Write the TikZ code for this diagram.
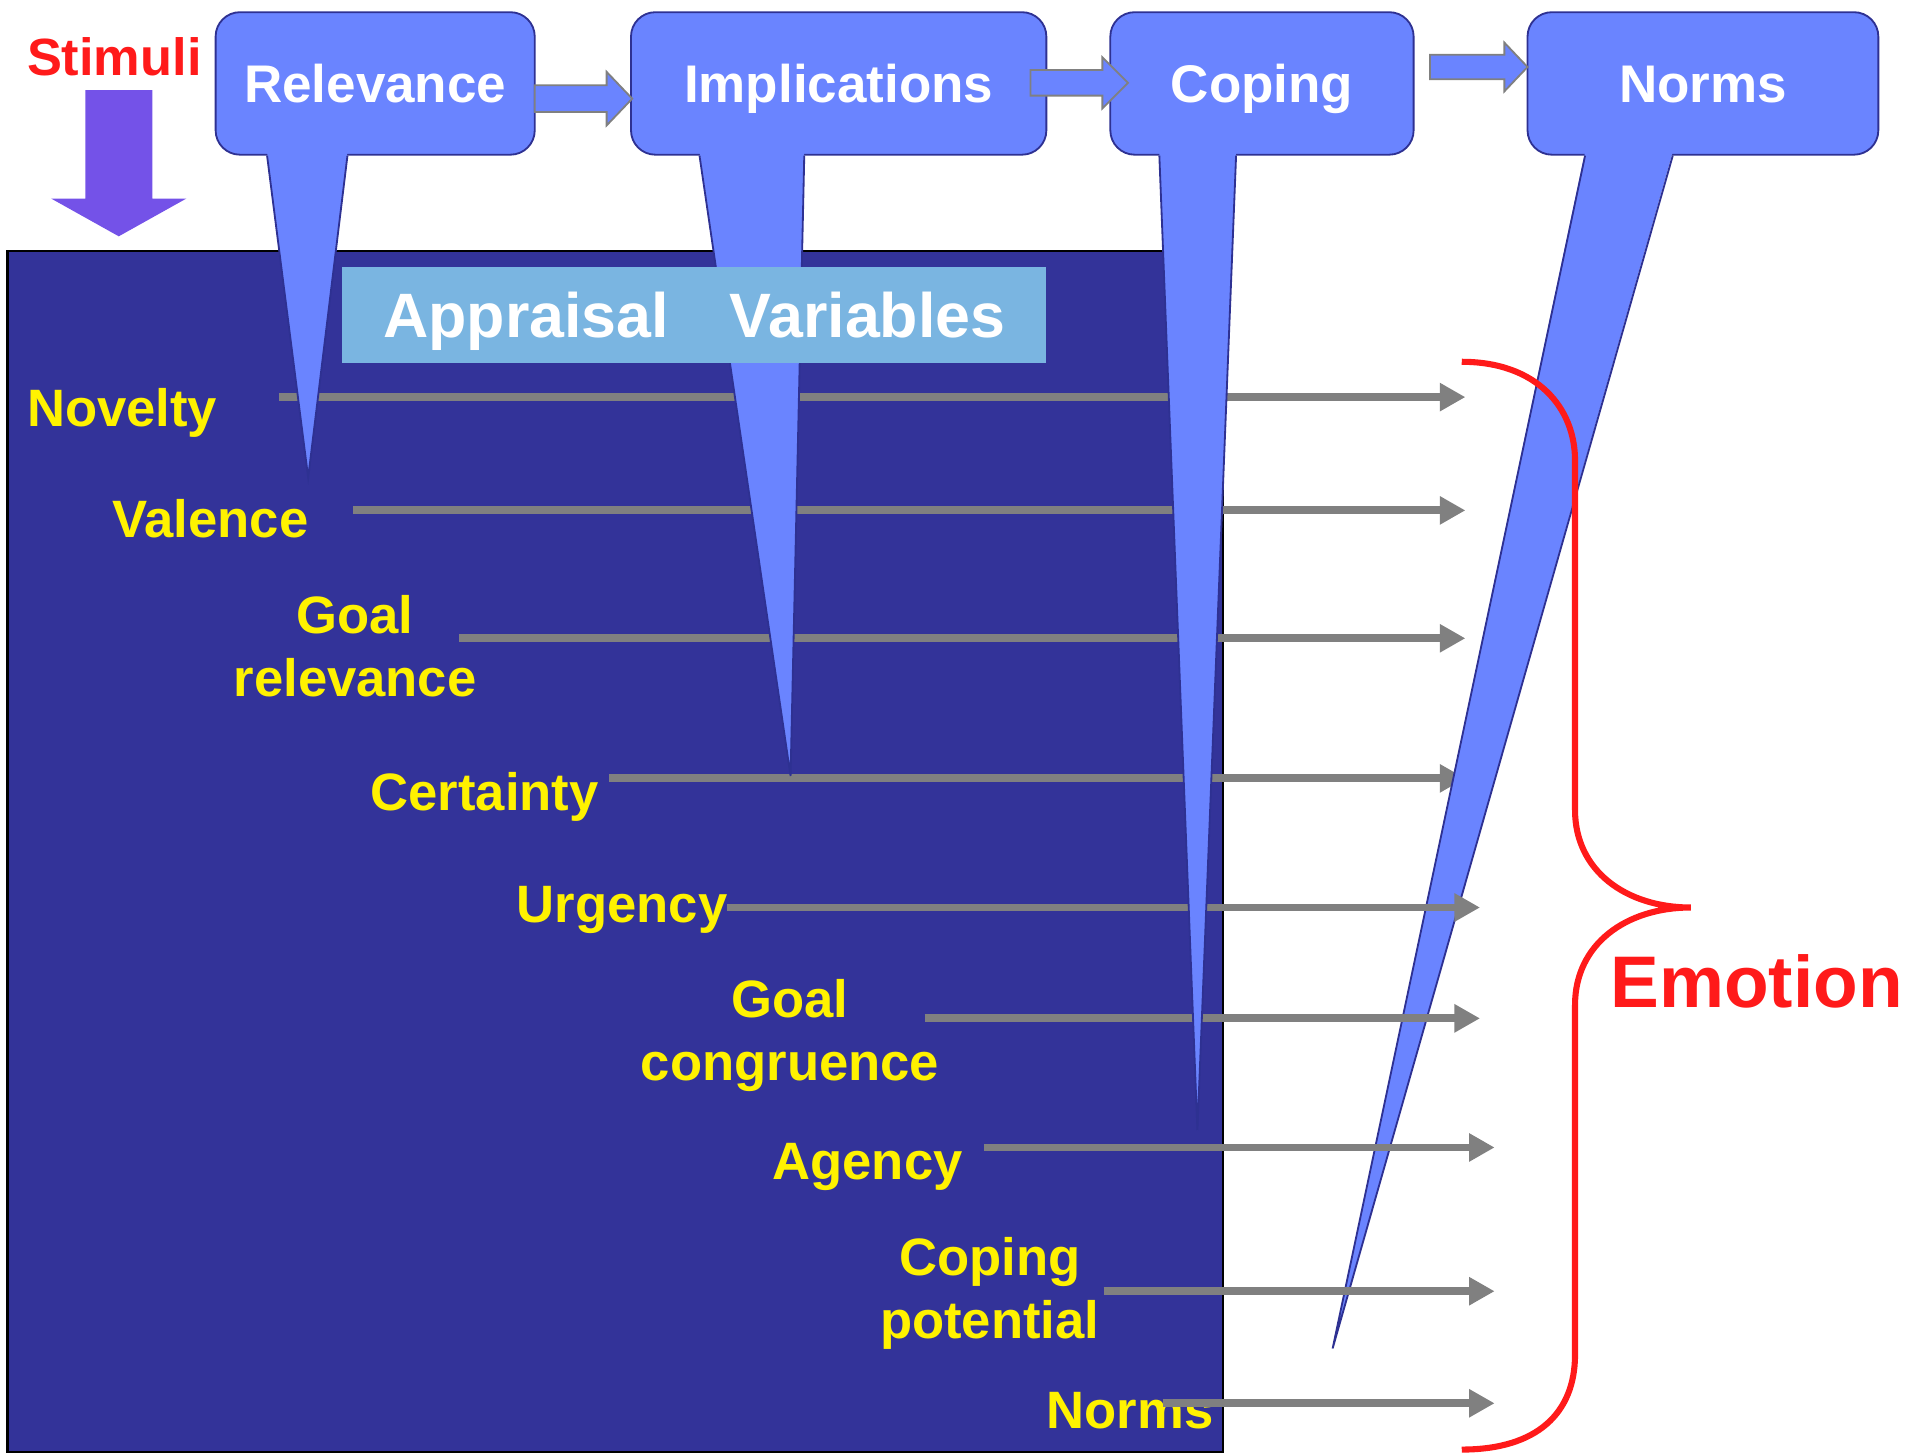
\documentclass[tikz,border=0pt]{standalone}
\usepackage{fontspec}
\setmainfont{Liberation Sans}
\usetikzlibrary{positioning,arrows.meta}

\definecolor{boxblue}{HTML}{6A84FF}
\definecolor{navy}{HTML}{333399}
\definecolor{edgeblue}{HTML}{2E3192}
\definecolor{skyblue}{HTML}{7AB5E1}
\definecolor{labyellow}{HTML}{FFF200}
\definecolor{stimred}{HTML}{FF1A1A}
\definecolor{stimpurple}{HTML}{7452E8}
\definecolor{lgray}{HTML}{808080}

\tikzset{
  topbox/.style={draw=edgeblue, fill=boxblue, line width=1.5pt, rounded corners=20pt,
    minimum height=117pt, inner sep=0pt, text=white,
    font=\fontsize{43.5}{52}\selectfont\bfseries, text height=31pt, text depth=0pt},
  tailedge/.style={draw=edgeblue, line width=1.5pt, line join=miter},
  varlab/.style={text=labyellow, font=\fontsize{43.2}{52}\selectfont\bfseries,
    align=center, inner sep=0pt},
  gline/.style={draw=lgray, line width=6.5pt, -{Triangle[length=21pt,width=22pt]}},
  blockarrow/.style={fill=boxblue, draw=lgray, line width=1.5pt},
}

\begin{document}
\begin{tikzpicture}[x=1pt,y=-1pt]
\useasboundingbox (0,0) rectangle (1568,1194);

% stimuli
\node[text=stimred, font=\fontsize{43}{52}\selectfont\bfseries, inner sep=0pt, anchor=base west] (stim) at (22,62) {Stimuli};
\fill[stimpurple] (70,74) -- (125,74) -- (125,163) -- (153,163) -- (97.5,194) -- (42,163) -- (70,163) -- cycle;

% panel
\draw[fill=navy, draw=black, line width=2pt] (6,206) rectangle (1004,1192);

% variables
\node[varlab, anchor=base west] (nov) at (22,350) {Novelty};
\node[varlab, anchor=base west] (val) at (92,441) {Valence};
\node[varlab, anchor=base] (goalrel) at (291.5,572) {Goal\\relevance};
\node[varlab, anchor=base west] (cert) at (304,665) {Certainty};
\node[varlab, anchor=base west] (urg) at (424,757) {Urgency};
\node[varlab, anchor=base] (goalcon) at (648.5,887) {Goal\\congruence};
\node[varlab, anchor=base west] (agency) at (634,968) {Agency};
\node[varlab, anchor=base] (copepot) at (812.5,1099) {Coping\\potential};
\node[varlab, anchor=base west] (normlab) at (859,1173) {Norms};

% check boxes
\node[topbox, minimum width=262pt] (rel) at (308,68.5) {Relevance};
\node[topbox, minimum width=341pt, right=77.5pt of rel] (impl) {Implications};
\node[topbox, minimum width=249pt, right=51pt of impl] (cop) {Coping};
\node[topbox, minimum width=288pt, right=92pt of cop] (norms) {Norms};

% tips of the callouts
\coordinate (reltip) at (253,392);
\coordinate (impltip) at (649,637);
\coordinate (coptip) at (983,928);
\coordinate (normstip) at (1094,1107);

% lines to emotion
\foreach \i/\xs/\xe/\y in {1/229/1203/326, 2/290/1203/419, 3/377/1203/524, 4/500/1203/639}{
  \coordinate (a\i) at (\xs,\y);
  \coordinate (b\i) at (\xe,\y);
  \draw[gline] (a\i) -- (b\i);
}
\fill[boxblue] ([xshift=48pt,yshift=3pt]norms.south west) -- (normstip) -- ([xshift=120pt,yshift=3pt]norms.south west) -- cycle;
\draw[tailedge] ([xshift=48pt]norms.south west) -- (normstip) -- ([xshift=120pt]norms.south west);
\foreach \i/\xs/\xe/\y in {5/597/1215/745, 6/759/1215/836, 7/808/1227/942, 8/906/1227/1060, 9/955/1227/1152}{
  \coordinate (a\i) at (\xs,\y);
  \coordinate (b\i) at (\xe,\y);
  \draw[gline] (a\i) -- (b\i);
}
\foreach \b/\l/\r in {rel/43/109, impl/57/143, cop/41/104}{
  \fill[boxblue] ([xshift=\l pt,yshift=3pt]\b.south west) -- (\b tip) -- ([xshift=\r pt,yshift=3pt]\b.south west) -- cycle;
  \draw[tailedge] ([xshift=\l pt]\b.south west) -- (\b tip) -- ([xshift=\r pt]\b.south west);
}

\node[fill=skyblue, minimum width=578pt, minimum height=79pt, inner sep=0pt, text=white,
  font=\fontsize{51.5}{60}\selectfont\bfseries, text height=37pt, text depth=0pt] (appr) at (570,258.5) {Appraisal\hspace{50pt}Variables};

% arrows between checks
\foreach \xa/\xb/\xc/\yc/\h in {439/498/519/81/11, 846/905/926/68/10.5, 1174/1235/1254/55/10}
  \draw[blockarrow] (\xa,\yc-\h) -- (\xb,\yc-\h) -- (\xb,\yc-2*\h) -- (\xc,\yc) -- (\xb,\yc+2*\h) -- (\xb,\yc+\h) -- (\xa,\yc+\h) -- cycle;

% emotion
\draw[stimred, line width=5pt] (1200,297) .. controls (1262,297) and (1293,335) .. (1293,378) -- (1293,665)
  .. controls (1293,715) and (1335,745) .. (1388,745) .. controls (1335,745) and (1293,775) .. (1293,825)
  -- (1293,1112) .. controls (1293,1160) and (1262,1190) .. (1200,1190);
\node[text=stimred, font=\fontsize{60}{70}\selectfont\bfseries, inner sep=0pt, anchor=base west] (emo) at (1322,827) {Emotion};
\end{tikzpicture}
\end{document}
